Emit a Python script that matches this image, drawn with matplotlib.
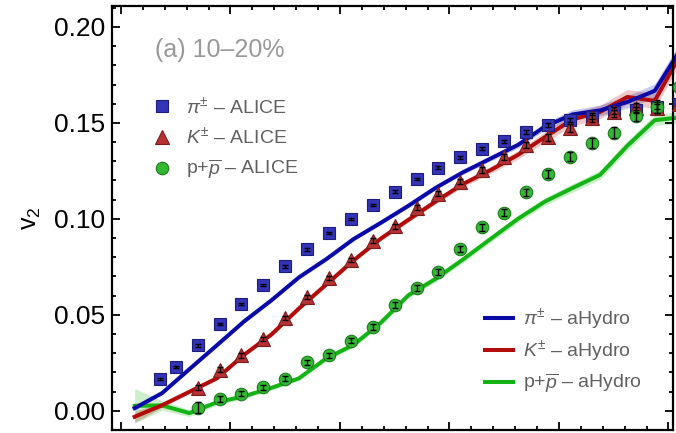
import numpy as np
import matplotlib.pyplot as plt
from matplotlib.lines import Line2D

plt.rcParams['font.family'] = ['Liberation Sans', 'DejaVu Sans']
plt.rcParams['mathtext.fontset'] = 'custom'
plt.rcParams['mathtext.rm'] = 'Liberation Sans'
plt.rcParams['mathtext.it'] = 'Liberation Sans:italic'

# --- ALICE data (10-20%) ---
pi_pt = [0.18, 0.25, 0.35, 0.45, 0.55, 0.65, 0.75, 0.85, 0.95, 1.05, 1.15, 1.25, 1.35,
         1.45, 1.55, 1.65, 1.75, 1.85, 1.95, 2.05, 2.15, 2.25, 2.35, 2.45, 2.55]
pi_v2 = [0.0167, 0.0228, 0.0341, 0.0453, 0.0556, 0.0655, 0.0752, 0.0841, 0.0926, 0.1001,
         0.1071, 0.1142, 0.1207, 0.1266, 0.1321, 0.1366, 0.1405, 0.1453, 0.1489, 0.1516,
         0.1530, 0.1556, 0.1569, 0.1584, 0.1599]
pi_err = [0.0006, 0.0006, 0.0006, 0.0006, 0.0006, 0.0006, 0.0006, 0.0006, 0.0006, 0.0006,
          0.0006, 0.0007, 0.0007, 0.0007, 0.0008, 0.0008, 0.0008, 0.0009, 0.0010, 0.0010,
          0.0011, 0.0012, 0.0013, 0.0014, 0.0015]

ka_pt = [0.35, 0.45, 0.55, 0.65, 0.75, 0.85, 0.95, 1.05, 1.15, 1.25, 1.35, 1.45, 1.55,
         1.65, 1.75, 1.85, 1.95, 2.05, 2.15, 2.25, 2.35, 2.45, 2.55]
ka_v2 = [0.0120, 0.0214, 0.0289, 0.0374, 0.0485, 0.0594, 0.0691, 0.0786, 0.0887, 0.0961,
         0.1059, 0.1130, 0.1194, 0.1255, 0.1321, 0.1384, 0.1426, 0.1472, 0.1527, 0.1557,
         0.1579, 0.1580, 0.1596]
ka_err = [0.0012, 0.0012, 0.0012, 0.0011, 0.0011, 0.0011, 0.0011, 0.0011, 0.0011, 0.0012,
          0.0012, 0.0013, 0.0013, 0.0014, 0.0015, 0.0016, 0.0018, 0.0020, 0.0022, 0.0025,
          0.0027, 0.0030, 0.0032]

pr_pt = [0.35, 0.45, 0.55, 0.65, 0.75, 0.85, 0.95, 1.05, 1.15, 1.25, 1.35, 1.45, 1.55,
         1.65, 1.75, 1.85, 1.95, 2.05, 2.15, 2.25, 2.35, 2.45, 2.55]
pr_v2 = [0.0016, 0.0061, 0.0090, 0.0123, 0.0168, 0.0253, 0.0289, 0.0366, 0.0436, 0.0551,
         0.0639, 0.0722, 0.0843, 0.0957, 0.1032, 0.1138, 0.1233, 0.1324, 0.1397, 0.1449,
         0.1538, 0.1585, 0.1686]
pr_err = [0.0028, 0.0015, 0.0013, 0.0013, 0.0013, 0.0014, 0.0014, 0.0014, 0.0014, 0.0015,
          0.0015, 0.0016, 0.0017, 0.0018, 0.0019, 0.0020, 0.0022, 0.0024, 0.0026, 0.0028,
          0.0030, 0.0032, 0.0034]

# --- aHydro curves ---
hy_pt = [0.0625, 0.1875, 0.3125, 0.4375, 0.5625, 0.6875, 0.8125, 0.9375, 1.0625, 1.1875,
         1.3125, 1.4375, 1.5625, 1.6875, 1.8125, 1.9375, 2.0625, 2.1875, 2.3125, 2.4375,
         2.5625]
hy_pi = [0.0014, 0.0092, 0.0217, 0.0341, 0.0466, 0.0576, 0.0695, 0.0790, 0.0895, 0.0980,
         0.1068, 0.1162, 0.1243, 0.1314, 0.1385, 0.1482, 0.1544, 0.1565, 0.1609, 0.1667,
         0.1896]
hy_ka = [-0.0031, 0.0029, 0.0099, 0.0169, 0.0292, 0.0398, 0.0533, 0.0658, 0.0784, 0.0898,
         0.0995, 0.1091, 0.1182, 0.1254, 0.1333, 0.1427, 0.1518, 0.1557, 0.1635, 0.1615,
         0.1870]
hy_pr = [0.0026, 0.0028, -0.0012, 0.0044, 0.0076, 0.0120, 0.0169, 0.0273, 0.0344, 0.0460,
         0.0602, 0.0688, 0.0789, 0.0895, 0.1000, 0.1091, 0.1161, 0.1229, 0.1381, 0.1514,
         0.1530]
# half widths of the shaded bands
band_pi = [0.0012, 0.0008, 0.0008, 0.0008, 0.0008, 0.0008, 0.0008, 0.0008, 0.0008, 0.0009,
           0.0009, 0.0010, 0.0011, 0.0013, 0.0016, 0.0020, 0.0024, 0.0028, 0.0032, 0.0036,
           0.0040]
band_ka = [0.0030, 0.0012, 0.0009, 0.0009, 0.0009, 0.0009, 0.0009, 0.0010, 0.0010, 0.0011,
           0.0012, 0.0013, 0.0015, 0.0018, 0.0022, 0.0028, 0.0032, 0.0035, 0.0038, 0.0040,
           0.0042]
band_pr = [0.0090, 0.0025, 0.0018, 0.0014, 0.0012, 0.0012, 0.0012, 0.0012, 0.0013, 0.0013,
           0.0014, 0.0015, 0.0016, 0.0017, 0.0018, 0.0020, 0.0022, 0.0024, 0.0026, 0.0028,
           0.0030]

blue, red, green = '#0a0aa8', '#b30a0a', '#14b414'

fig = plt.figure(figsize=(6.76, 4.33), dpi=100)
ax = fig.add_axes([112/676, 3/433, 561/676, 424/433])

# bands + lines
for v, b, lc in [(hy_pr, band_pr, green), (hy_ka, band_ka, red), (hy_pi, band_pi, blue)]:
    v = np.array(v); b = np.array(b)
    ax.fill_between(hy_pt, v - b, v + b, color=lc, alpha=0.22, lw=0, clip_on=False, zorder=1)
for v, c in [(hy_pr, green), (hy_ka, red), (hy_pi, blue)]:
    ax.plot(hy_pt, v, color=c, lw=2.9, solid_joinstyle='round', clip_on=False, zorder=2)

# data markers
ms_kw = dict(linestyle='none', clip_on=False, zorder=3)
ax.plot(pi_pt, pi_v2, marker='s', ms=8, mfc='#3434b8', mec='#1c1c7a', mew=0.8, **ms_kw)
ax.plot(ka_pt, ka_v2, marker='^', ms=9.5, mfc='#b83232', mec='#7a1c1c', mew=0.8, **ms_kw)
ax.plot(pr_pt, pr_v2, marker='o', ms=9, mfc='#34b834', mec='#1c7a1c', mew=0.8, **ms_kw)
for x, y, e in [(pi_pt, pi_v2, pi_err), (ka_pt, ka_v2, ka_err), (pr_pt, pr_v2, pr_err)]:
    ax.errorbar(x, y, yerr=e, fmt='none', ecolor='black', elinewidth=1.0, capsize=2.2,
                capthick=1.0, zorder=4, clip_on=False)

ax.set_xlim(-0.041, 2.521)
ax.set_ylim(-0.0099, 0.2109)
ax.set_xticks(np.arange(0, 2.51, 0.5))
ax.set_xticks(np.arange(0, 2.51, 0.1), minor=True)
ax.set_yticks([0.0, 0.05, 0.10, 0.15, 0.20])
ax.set_yticks(np.arange(-0.01, 0.211, 0.01), minor=True)
ax.set_yticklabels(['0.00', '0.05', '0.10', '0.15', '0.20'])
ax.tick_params(which='both', direction='in', top=True, right=True, labelbottom=False,
               labelsize=19, width=1.3)
ax.tick_params(which='major', length=5.5, pad=5)
ax.tick_params(which='minor', length=3)
for s in ax.spines.values():
    s.set_linewidth(1.6)

ax.set_ylabel(r'$\mathregular{v_2}$', fontsize=18, labelpad=8)

ax.text(0.077, 0.897, '(a) 10–20%', transform=ax.transAxes, fontsize=18, color='#999999',
        va='center', ha='left')

h1 = [Line2D([], [], linestyle='none', marker='s', ms=8, mfc='#3434b8', mec='#1c1c7a', mew=0.8),
      Line2D([], [], linestyle='none', marker='^', ms=9.5, mfc='#b83232', mec='#7a1c1c', mew=0.8),
      Line2D([], [], linestyle='none', marker='o', ms=9, mfc='#34b834', mec='#1c7a1c', mew=0.8)]
l1 = [r'$\pi^{\pm}$ – ALICE', r'$K^{\pm}$ – ALICE', r'p+$\overline{p}$ – ALICE']
leg1 = ax.legend(h1, l1, loc='upper left', bbox_to_anchor=(152/676, 1 - 96/433),
                 bbox_transform=fig.transFigure, frameon=False, fontsize=14,
                 handlelength=1.0, handletextpad=0.75, labelspacing=0.48,
                 borderpad=0, borderaxespad=0, labelcolor='#606060')
ax.add_artist(leg1)

h2 = [Line2D([], [], color=blue, lw=2.9), Line2D([], [], color=red, lw=2.9),
      Line2D([], [], color=green, lw=2.9)]
l2 = [r'$\pi^{\pm}$ – aHydro', r'$K^{\pm}$ – aHydro', r'p+$\overline{p}$ – aHydro']
ax.legend(h2, l2, loc='upper left', bbox_to_anchor=(485/676, 1 - 307/433),
          bbox_transform=fig.transFigure, frameon=False, fontsize=14,
          handlelength=1.45, handletextpad=0.5, labelspacing=0.35,
          borderpad=0, borderaxespad=0, labelcolor='#606060')

fig.savefig('out.png', dpi=100)
